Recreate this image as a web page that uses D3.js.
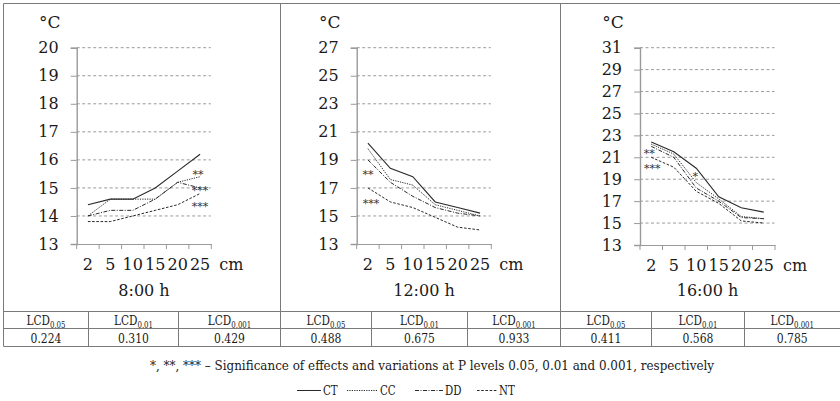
<!DOCTYPE html>
<html><head><meta charset="utf-8">
<script src="https://cdn.jsdelivr.net/npm/d3@7"></script>
</head><body style="margin:0">
<svg id="c" width="840" height="401"></svg>
<script>
const depths = ["2","5","10","15","20","25"];
const seriesNames = ["CT","CC","DD","NT"];
const times = ["8:00 h","12:00 h","16:00 h"];
const ct08 = [14.4,14.6,14.6,15.0,15.6,16.2];
const cc08 = [14.0,14.6,14.6,14.6,15.2,15.4];
const dd08 = [14.0,14.2,14.2,14.6,15.2,15.0];
const nt08 = [13.8,13.8,14.0,14.2,14.4,14.8];
const ct12 = [20.2,18.4,17.8,16.0,15.6,15.2];
const cc12 = [19.8,17.6,17.2,15.8,15.4,15.0];
const dd12 = [19.0,17.4,16.4,15.6,15.2,15.0];
const nt12 = [17.0,16.0,15.6,14.9,14.2,14.0];
const ct16 = [22.4,21.5,20.0,17.4,16.4,16.0];
const cc16 = [22.2,21.3,18.7,17.2,15.6,15.4];
const dd16 = [22.0,21.0,18.2,17.0,15.5,15.4];
const nt16 = [21.0,20.1,17.9,16.8,15.2,15.0];
const yMin = [13,13,13];
const yMax = [20,27,31];
const yStep = [1,2,2];
// significance marks: [panel, depth index, value, text, dx]
const sigMarks = [
  [0,5,15.57,"**",-2],[0,5,15.0,"***",0],[0,5,14.43,"***",0],
  [1,0,18.16,"**",0],[1,0,16.1,"***",3],
  [2,0,21.6,"**",-2],[2,0,20.25,"***",1],[2,2,19.5,"*",-1]
];
const lcdLevels = ["0.05","0.01","0.001"];
const lcd08 = ["0.224","0.310","0.429"];
const lcd12 = ["0.488","0.675","0.933"];
const lcd16 = ["0.411","0.568","0.785"];
const footnote = "*, **, *** \u2013 Significance of effects and variations at P levels 0.05, 0.01 and 0.001, respectively";

const FONT = "DejaVu Serif";
const TXT = "#1a1a1a";
const data = [[ct08,cc08,dd08,nt08],[ct12,cc12,dd12,nt12],[ct16,cc16,dd16,nt16]];
const lcdAll = [lcd08,lcd12,lcd16];
const dashes = [null,"1.2,1.2","4,1.5,1,1.5","2.6,1.6"];
const svg = d3.select("#c");
svg.append("rect").attr("width",840).attr("height",401).attr("fill","#fff");

const frameCol = "#7a7a7a";
const panelLeft = [76.7,356.7,640];
const panelRight = [211.3,491.3,775];
const plotTop = 47.7;
const bottoms = [244,244,245];

function txt(sel,size){ return sel.attr("font-family",FONT).attr("font-size",size).attr("fill",TXT); }

for(let p=0;p<3;p++){
  const g = svg.append("g");
  const x = d3.scaleBand().domain(depths).range([panelLeft[p],panelRight[p]]);
  const y = d3.scaleLinear().domain([yMin[p],yMax[p]]).range([bottoms[p],plotTop]);
  const ticks = d3.range(yMin[p],yMax[p]+0.001,yStep[p]);
  g.selectAll(".grid").data(ticks.filter(t=>t>yMin[p])).join("line")
    .attr("x1",panelLeft[p]).attr("x2",panelRight[p]-0.5)
    .attr("y1",d=>y(d)).attr("y2",d=>y(d))
    .attr("stroke","#9a9a9a").attr("stroke-width",1).attr("stroke-dasharray","3,2.5");
  const ya = g.append("g").attr("transform",`translate(${panelLeft[p]},0)`)
    .call(d3.axisLeft(y).tickValues(ticks).tickSize(6).tickPadding(12).tickFormat(d3.format("d")));
  ya.attr("font-family",FONT).attr("font-size",16);
  ya.select(".domain").attr("stroke","#9a9a9a").attr("stroke-width",1.4);
  ya.selectAll(".tick line").attr("stroke","#9a9a9a").attr("stroke-width",1);
  txt(ya.selectAll(".tick text"),16);
  const xa = g.append("g").attr("transform",`translate(0,${bottoms[p]})`)
    .call(d3.axisBottom(x).tickSize(0).tickPadding(15));
  xa.attr("font-family",FONT).attr("font-size",16);
  xa.select(".domain").attr("stroke","#9a9a9a").attr("stroke-width",1.2);
  txt(xa.selectAll(".tick text"),16);
  const bounds = depths.map(d=>x(d)).concat([panelRight[p]]);
  g.selectAll(".xt").data(bounds).join("line")
    .attr("x1",d=>d).attr("x2",d=>d).attr("y1",bottoms[p]).attr("y2",bottoms[p]+5)
    .attr("stroke","#9a9a9a").attr("stroke-width",1);
  txt(g.append("text").attr("x",panelLeft[p]-27).attr("y",28).attr("text-anchor","middle"),17).text("\u00b0C");
  txt(g.append("text").attr("x",panelRight[p]+8).attr("y",bottoms[p]+26),16).text("cm");
  txt(g.append("text").attr("x",(panelLeft[p]+panelRight[p])/2).attr("y",296).attr("text-anchor","middle"),16).text(times[p]);
  const line = d3.line().x((d,i)=>x(depths[i])+x.bandwidth()/2).y(d=>y(d));
  data[p].forEach((s,k)=>{
    g.append("path").attr("d",line(s)).attr("fill","none")
      .attr("stroke","#2a2a2a").attr("stroke-width",k===0?1.1:1)
      .attr("stroke-dasharray",dashes[k]);
  });
  sigMarks.filter(m=>m[0]===p).forEach(m=>{
    txt(g.append("text").attr("x",x(depths[m[1]])+x.bandwidth()/2+m[4]).attr("y",y(m[2])+6)
      .attr("text-anchor","middle"),11).attr("fill","#333").text(m[3]);
  });
}

const fr = svg.append("g").attr("stroke",frameCol).attr("stroke-width",1).attr("fill","none");
fr.append("line").attr("x1",3.5).attr("x2",840).attr("y1",3.5).attr("y2",3.5);
[3.5,280.5,560.5].forEach(xv=>fr.append("line").attr("x1",xv).attr("x2",xv).attr("y1",3.5).attr("y2",346.5));
[311.5,328.5,346.5].forEach(yv=>fr.append("line").attr("x1",3.5).attr("x2",840).attr("y1",yv).attr("y2",yv));
const colEdges = [[3.5,88.5,178.5,280.5],[280.5,371.5,467.5,560.5],[560.5,651.5,744.5,840]];
colEdges.forEach(c=>[c[1],c[2]].forEach(xv=>fr.append("line").attr("x1",xv).attr("x2",xv).attr("y1",311.5).attr("y2",346.5)));

colEdges.forEach((c,p)=>{
  for(let j=0;j<3;j++){
    const cx=(c[j]+c[j+1])/2;
    const t = txt(svg.append("text").attr("transform",`translate(${cx},325) scale(0.78,1)`).attr("text-anchor","middle"),13.5);
    t.append("tspan").text("LCD");
    t.append("tspan").attr("dy",3).attr("font-size",9).text(lcdLevels[j]);
    txt(svg.append("text").attr("transform",`translate(${cx},342.5) scale(0.8,1)`).attr("text-anchor","middle"),13.5).text(lcdAll[p][j]);
  }
});

txt(svg.append("text").attr("x",432).attr("y",370).attr("text-anchor","middle")
  .attr("textLength",564).attr("lengthAdjust","spacingAndGlyphs"),13).text(footnote);

const legX = [[297,321],[347,378],[415,443],[477,497]];
seriesNames.forEach((n,k)=>{
  svg.append("line").attr("x1",legX[k][0]).attr("x2",legX[k][1]).attr("y1",390.5).attr("y2",390.5)
    .attr("stroke","#2a2a2a").attr("stroke-width",1).attr("stroke-dasharray",dashes[k]);
  txt(svg.append("text").attr("transform",`translate(${legX[k][1]+2},395) scale(0.82,1)`),12.5).text(n);
});
</script>
</body></html>
